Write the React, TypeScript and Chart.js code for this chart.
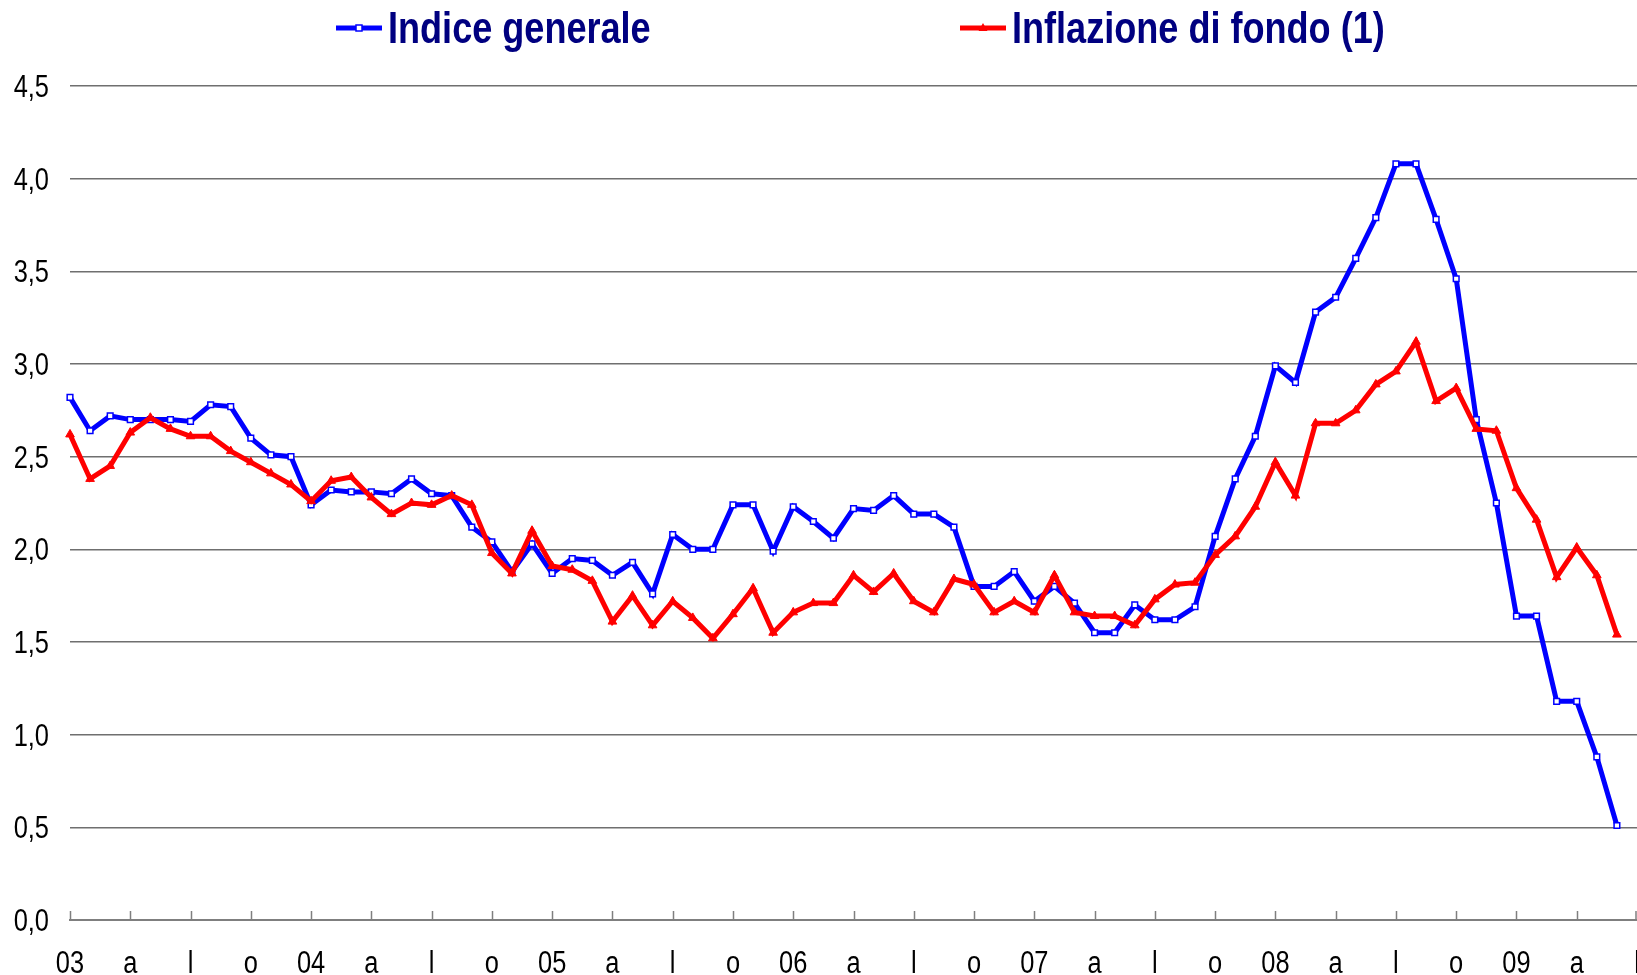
import React, { useEffect, useRef } from 'react';
import { Chart, registerables } from 'chart.js';

Chart.register(...registerables);

const FONT = "'Liberation Sans', Arial, 'DejaVu Sans', sans-serif";
const NARROW = 0.82; // horizontal squeeze imitating a narrow face

const years = ['03', '04', '05', '06', '07', '08', '09'];
const monthNames = ['gen', 'feb', 'mar', 'apr', 'mag', 'giu', 'lug', 'ago', 'set', 'ott', 'nov', 'dic'];
const categories: string[] = [];
years.forEach((y) => monthNames.forEach((m) => categories.push(`${m} ${y}`)));
categories.length = 79; // gen 03 .. lug 09

const tickLabels = [
  '03', 'a', 'l', 'o', '04', 'a', 'l', 'o', '05', 'a', 'l', 'o', '06', 'a', 'l', 'o',
  '07', 'a', 'l', 'o', '08', 'a', 'l', 'o', '09', 'a', 'l',
];

const yTicks = [0, 0.5, 1, 1.5, 2, 2.5, 3, 3.5, 4, 4.5];

const indiceGenerale = [
  2.82, 2.64, 2.72, 2.70, 2.70, 2.70, 2.69, 2.78, 2.77, 2.60, 2.51, 2.50,
  2.24, 2.32, 2.31, 2.31, 2.30, 2.38, 2.30, 2.29, 2.12, 2.04, 1.88, 2.03,
  1.87, 1.95, 1.94, 1.86, 1.93, 1.76, 2.08, 2.00, 2.00, 2.24, 2.24, 1.99,
  2.23, 2.15, 2.06, 2.22, 2.21, 2.29, 2.19, 2.19, 2.12, 1.80, 1.80, 1.88,
  1.72, 1.80, 1.71, 1.55, 1.55, 1.70, 1.62, 1.62, 1.69, 2.07, 2.38, 2.61,
  2.99, 2.90, 3.28, 3.36, 3.57, 3.79, 4.08, 4.08, 3.78, 3.46, 2.70, 2.25,
  1.64, 1.64, 1.18, 1.18, 0.88, 0.51,
];

const inflazioneFondo = [
  2.62, 2.38, 2.45, 2.63, 2.71, 2.65, 2.61, 2.61, 2.53, 2.47, 2.41, 2.35,
  2.26, 2.37, 2.39, 2.28, 2.19, 2.25, 2.24, 2.29, 2.24, 1.98, 1.87, 2.10,
  1.91, 1.89, 1.83, 1.61, 1.75, 1.59, 1.72, 1.63, 1.52, 1.65, 1.79, 1.55,
  1.66, 1.71, 1.71, 1.86, 1.77, 1.87, 1.72, 1.66, 1.84, 1.81, 1.66, 1.72,
  1.66, 1.86, 1.66, 1.64, 1.64, 1.59, 1.73, 1.81, 1.82, 1.97, 2.07, 2.23,
  2.47, 2.29, 2.68, 2.68, 2.75, 2.89, 2.96, 3.12, 2.80, 2.87, 2.65, 2.64,
  2.33, 2.16, 1.85, 2.01, 1.86, 1.54,
];

const seriesNames = ['Indice generale', 'Inflazione di fondo (1)'];

const fmtY = (v: number) => v.toFixed(1).replace('.', ',');

const axisDecorPlugin = {
  id: 'axisDecor',
  beforeDatasetsDraw(chart: any) {
    const xs = chart.scales.x;
    const ctx = chart.ctx;
    const bottom = chart.chartArea.bottom;
    ctx.save();
    ctx.strokeStyle = '#7f7f7f';
    ctx.lineWidth = 1.5;
    for (let i = 0; i < categories.length; i += 3) {
      const px = Math.min(Math.round(xs.getPixelForValue(i)) + 0.5, chart.width - 1);
      ctx.beginPath();
      ctx.moveTo(px, bottom);
      ctx.lineTo(px, bottom - 9);
      ctx.stroke();
    }
    ctx.restore();
  },
  afterDraw(chart: any) {
    const xs = chart.scales.x;
    const ys = chart.scales.y;
    const ctx = chart.ctx;
    ctx.save();
    ctx.fillStyle = '#000000';
    ctx.font = `31px ${FONT}`;
    ctx.textBaseline = 'alphabetic';
    ctx.textAlign = 'right';
    const rightX = chart.chartArea.left - 21;
    yTicks.forEach((v) => {
      const py = ys.getPixelForValue(v);
      ctx.save();
      ctx.translate(rightX, py + 11);
      ctx.scale(NARROW, 1);
      ctx.fillText(fmtY(v), 0, 0);
      ctx.restore();
    });
    ctx.textAlign = 'center';
    const baseY = chart.chartArea.bottom + 53;
    for (let i = 0; i < categories.length; i += 3) {
      const px = xs.getPixelForValue(i);
      ctx.save();
      ctx.translate(px, baseY);
      ctx.scale(NARROW, 1);
      ctx.fillText(tickLabels[i / 3], 0, 0);
      ctx.restore();
    }
    ctx.restore();
  },
};

function LegendItem({ left, color, marker, label }: { left: number; color: string; marker: 'rect' | 'tri'; label: string }) {
  return (
    <div style={{ position: 'absolute', left, top: 0, height: 56, display: 'flex', alignItems: 'center' }}>
      <svg width={46} height={14} style={{ display: 'block' }}>
        <line x1={0} y1={7} x2={46} y2={7} stroke={color} strokeWidth={5} />
        {marker === 'rect' ? (
          <rect x={20} y={4} width={6} height={6} fill="#fff" stroke={color} strokeWidth={1.5} />
        ) : (
          <polygon points="23,2 27.5,10 18.5,10" fill={color} />
        )}
      </svg>
      <span
        style={{
          marginLeft: 6,
          font: `bold 44px ${FONT}`,
          color: '#000080',
          lineHeight: 1,
          whiteSpace: 'nowrap',
          display: 'inline-block',
          transform: `scaleX(${NARROW})`,
          transformOrigin: 'left center',
        }}
      >
        {label}
      </span>
    </div>
  );
}

export default function App() {
  const canvasRef = useRef<HTMLCanvasElement | null>(null);

  useEffect(() => {
    if (!canvasRef.current) return;
    const chart = new Chart(canvasRef.current, {
      type: 'line',
      data: {
        labels: categories,
        datasets: [
          {
            label: seriesNames[0],
            data: indiceGenerale,
            borderColor: '#0000ff',
            borderWidth: 5,
            pointStyle: 'rect',
            pointRadius: 4,
            pointBackgroundColor: '#ffffff',
            pointBorderColor: '#0000ff',
            pointBorderWidth: 1.5,
            tension: 0,
            order: 2,
            clip: 10,
          },
          {
            label: seriesNames[1],
            data: inflazioneFondo,
            borderColor: '#ff0000',
            borderWidth: 5,
            pointStyle: 'triangle',
            pointRadius: 5,
            pointBackgroundColor: '#ff0000',
            pointBorderColor: '#ff0000',
            pointBorderWidth: 1,
            tension: 0,
            order: 1,
            clip: 10,
          },
        ],
      },
      options: {
        animation: false,
        responsive: false,
        devicePixelRatio: 1,
        layout: { autoPadding: false, padding: { top: 86, right: 0, left: 0, bottom: 0 } },
        plugins: {
          legend: { display: false },
          tooltip: { enabled: false },
        },
        scales: {
          x: {
            type: 'category',
            offset: false,
            grid: { drawOnChartArea: false, drawTicks: false },
            border: { display: true, color: '#7f7f7f', width: 2 },
            ticks: { display: false, autoSkip: false, maxRotation: 0, minRotation: 0 },
            afterFit: (s: any) => {
              s.height = 55;
              s.paddingLeft = 0;
              s.paddingRight = 0;
            },
          },
          y: {
            min: 0,
            max: 4.5,
            afterBuildTicks: (s: any) => {
              s.ticks = yTicks.map((v) => ({ value: v }));
            },
            grid: { color: '#6f6f6f', lineWidth: 1.5, drawTicks: false },
            border: { display: false },
            ticks: { display: false },
            afterFit: (s: any) => {
              s.width = 70;
              s.paddingTop = 0;
              s.paddingBottom = 0;
            },
          },
        },
      },
      plugins: [axisDecorPlugin],
    });
    return () => chart.destroy();
  }, []);

  return (
    <div style={{ position: 'fixed', left: 0, top: 0, width: 1637, height: 975, background: '#fff', overflow: 'hidden' }}>
      <canvas ref={canvasRef} width={1637} height={975} style={{ display: 'block', width: 1637, height: 975 }} />
      <LegendItem left={336} color="#0000ff" marker="rect" label={seriesNames[0]} />
      <LegendItem left={960} color="#ff0000" marker="tri" label={seriesNames[1]} />
    </div>
  );
}
